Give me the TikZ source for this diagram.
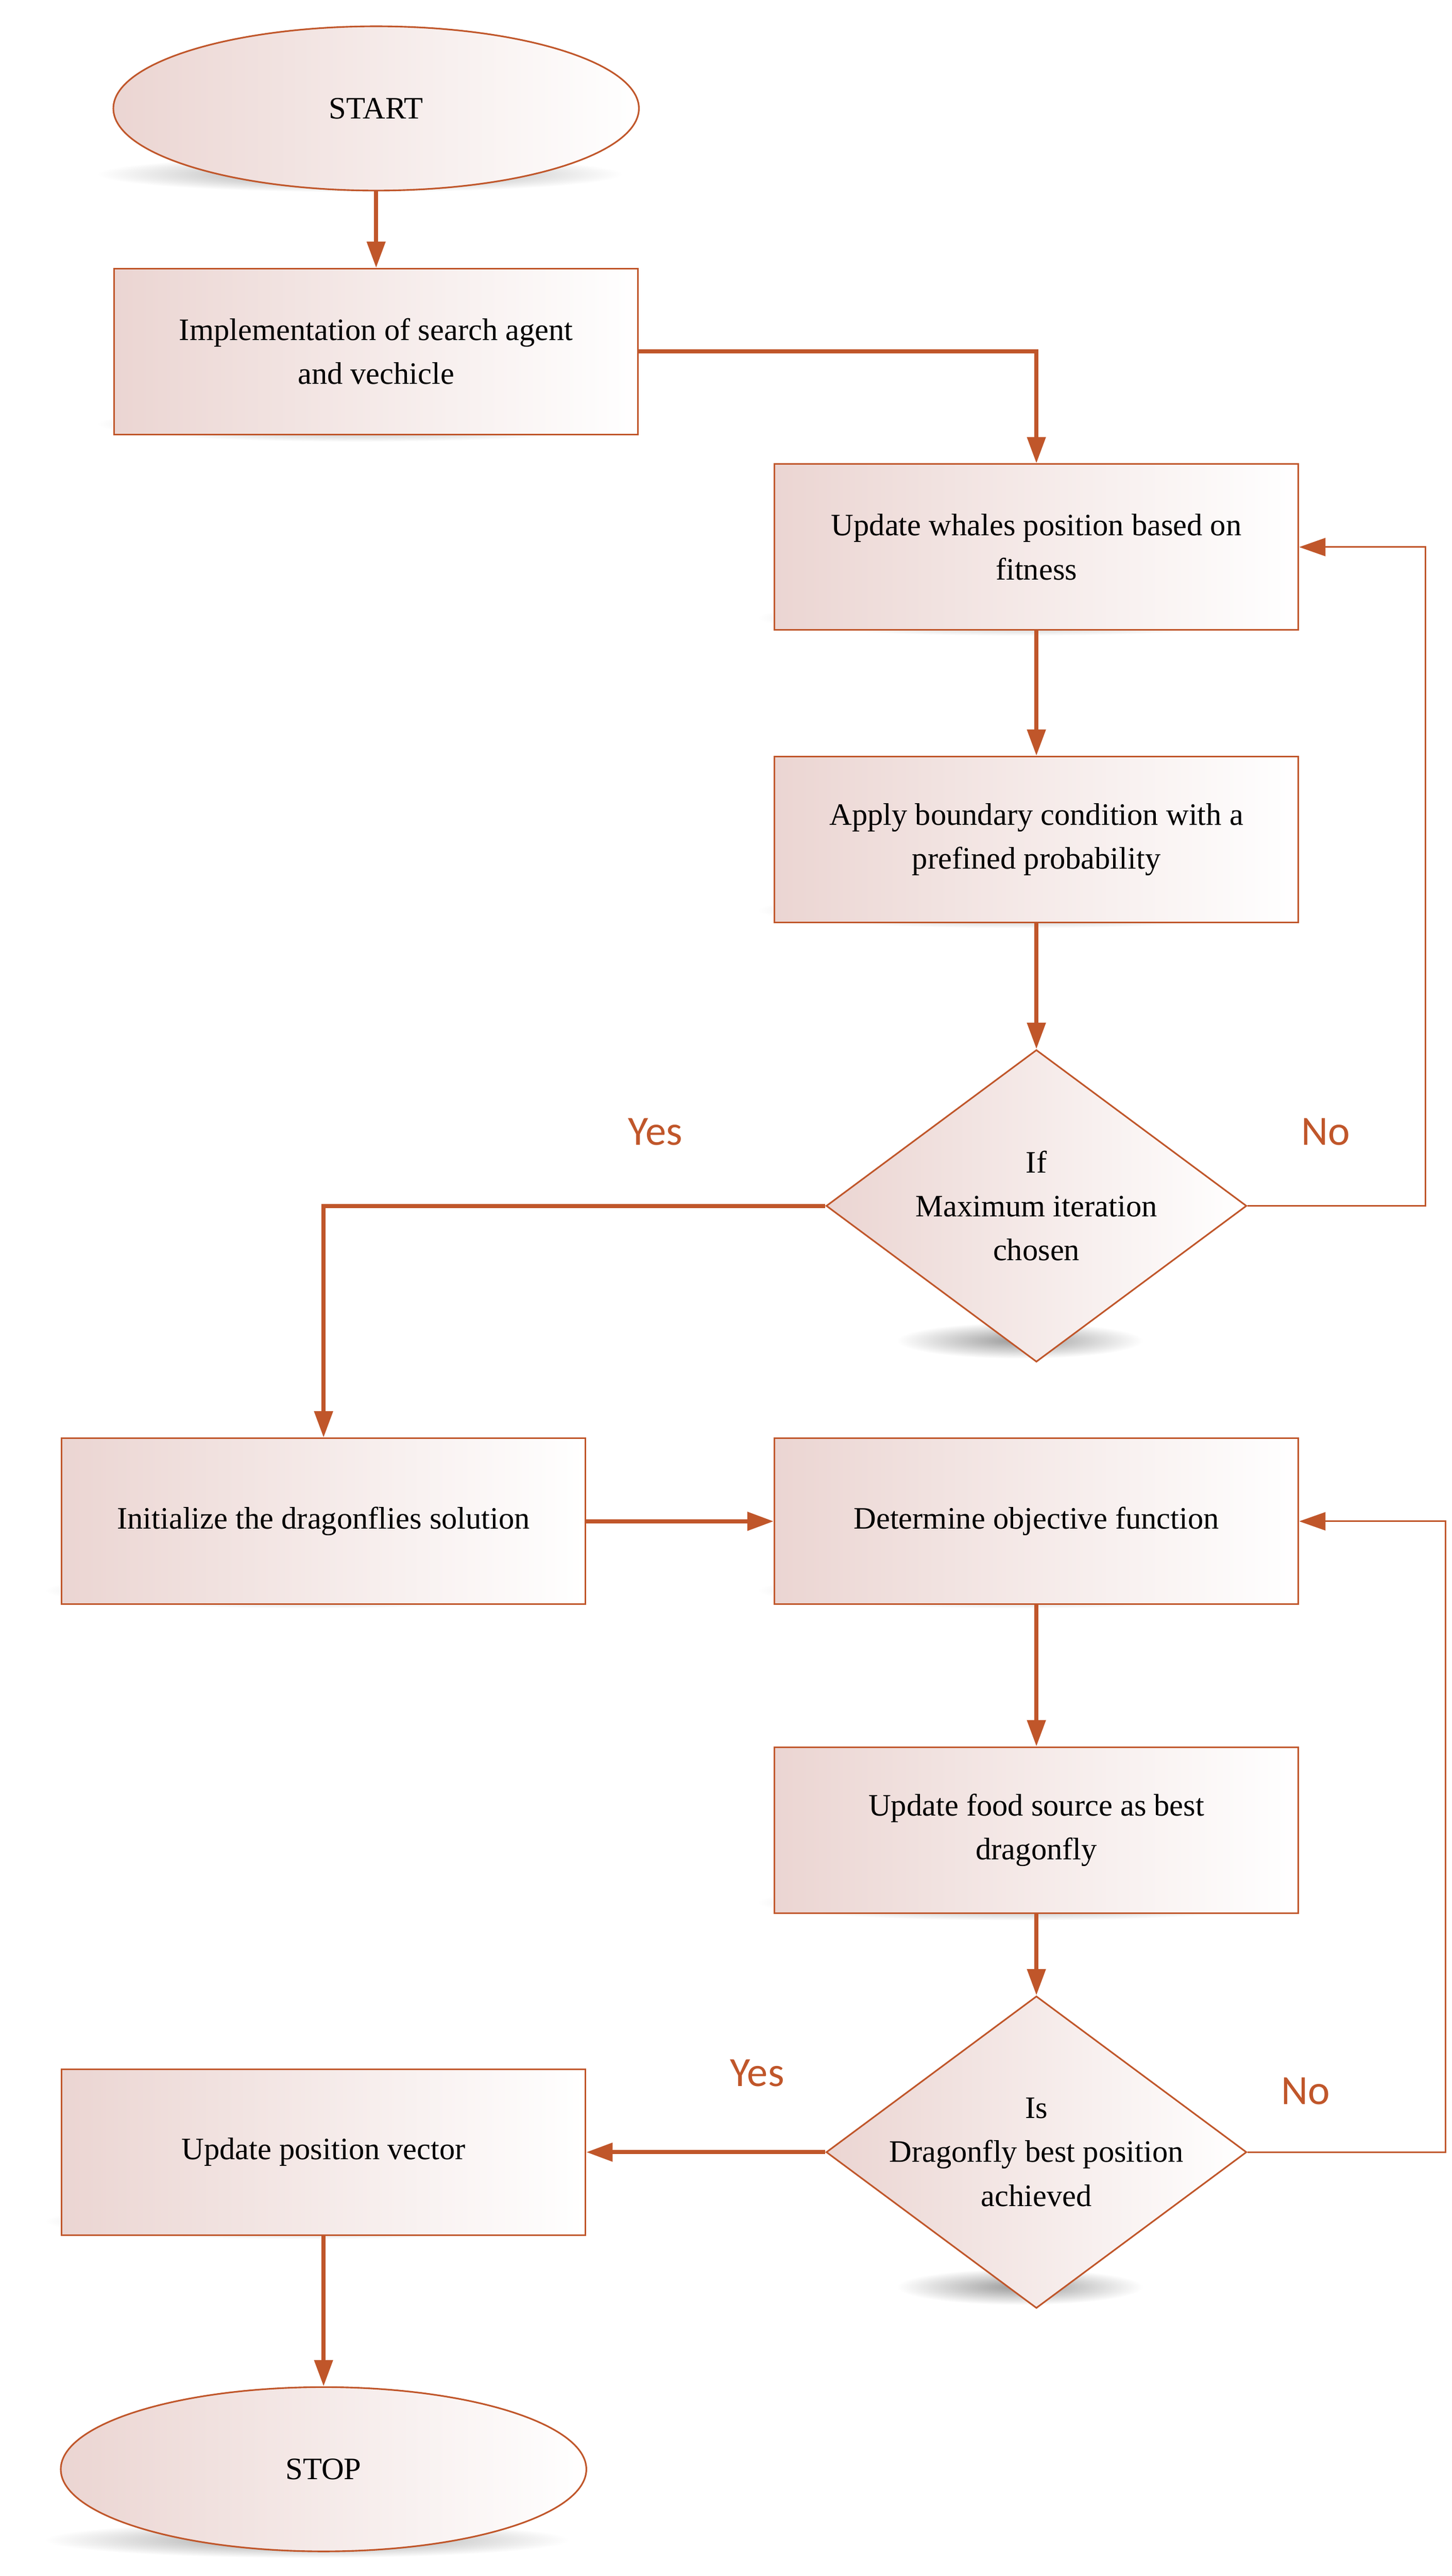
\documentclass[tikz,border=0pt]{standalone}
\usepackage{fontspec}
\setmainfont{Liberation Serif}
\newfontfamily\lblfont{Carlito}
\usetikzlibrary{shapes.geometric,arrows.meta}
\definecolor{ln}{HTML}{C0562A}
\definecolor{pk}{HTML}{EBD5D2}
\begin{document}
\begin{tikzpicture}[x=0.05cm,y=-0.05cm,
  base/.style={draw=ln,line width=1.4pt,left color=pk,right color=white,
    font=\rmfamily\fontsize{27}{38}\selectfont,align=center,inner sep=0pt},
  box/.style={base,rectangle,minimum width=15.95cm,minimum height=5.05cm},
  ov/.style={base,ellipse,minimum width=16cm,minimum height=5cm},
  dia/.style={base,diamond,minimum width=12.8cm,minimum height=9.5cm},
  arr/.style={draw=ln,line width=3.5pt,-{Triangle[length=0.8cm,width=0.55cm]}},
  thin/.style={draw=ln,line width=1.4pt,-{Triangle[length=0.8cm,width=0.55cm]}},
  lbl/.style={text=ln,font=\lblfont\fontsize{36}{40}\selectfont},
  sh/.style={inner color=black!40,outer color=white}]
\useasboundingbox (0,0) rectangle (884,1568);
% shadows
\foreach \x/\y/\w in {219/106/160, 219/258/160, 621/376/160, 621/554/160, 621/816/75, 187/968/160, 621/968/160, 621/1158/160, 621/1392/75, 187/1352/160, 187/1546/160}
  \shade[sh] (\x,\y) ellipse ({\w} and 11);
\node[ov]  (start) at (229,66) {START};
\node[box] (b1) at (229,214) {Implementation of search agent\\and vechicle};
\node[box] (b2) at (631,333) {Update whales position based on\\fitness};
\node[box] (b3) at (631,511) {Apply boundary condition with a\\prefined probability};
\node[dia] (d1) at (631,734) {};
\node[font=\rmfamily\fontsize{27}{38}\selectfont,align=center] (d1t) at (d1) {If\\Maximum iteration\\chosen};
\node[box] (b4) at (197,926) {Initialize the dragonflies solution};
\node[box] (b5) at (631,926) {Determine objective function};
\node[box] (b6) at (631,1114) {Update food source as best\\dragonfly};
\node[dia] (d2) at (631,1310) {};
\node[font=\rmfamily\fontsize{27}{38}\selectfont,align=center] (d2t) at (d2) {Is\\Dragonfly best position\\achieved};
\node[box] (b7) at (197,1310) {Update position vector};
\node[ov]  (stop) at (197,1503) {STOP};
\coordinate (c1) at (631,214);
\coordinate (c2) at (868,734);
\coordinate (c3) at (868,333);
\coordinate (c4) at (197,734);
\coordinate (c5) at (880,1310);
\coordinate (c6) at (880,926);
\draw[arr] (start) -- (b1);
\draw[arr] (b1.east) -- (c1) -- (b2.north);
\draw[arr] (b2) -- (b3);
\draw[arr] (b3) -- (d1.north);
\draw[thin] (d1.east) -- (c2) -- (c3) -- (b2.east);
\draw[arr] (d1.west) -- (c4) -- (b4.north);
\draw[arr] (b4) -- (b5);
\draw[arr] (b5) -- (b6);
\draw[arr] (b6) -- (d2.north);
\draw[thin] (d2.east) -- (c5) -- (c6) -- (b5.east);
\draw[arr] (d2.west) -- (b7.east);
\draw[arr] (b7) -- (stop);
\node[lbl] (y1) at (399,689) {Yes};
\node[lbl] (n1) at (807,689) {No};
\node[lbl] (y2) at (461,1262) {Yes};
\node[lbl] (n2) at (795,1273) {No};
\end{tikzpicture}
\end{document}
